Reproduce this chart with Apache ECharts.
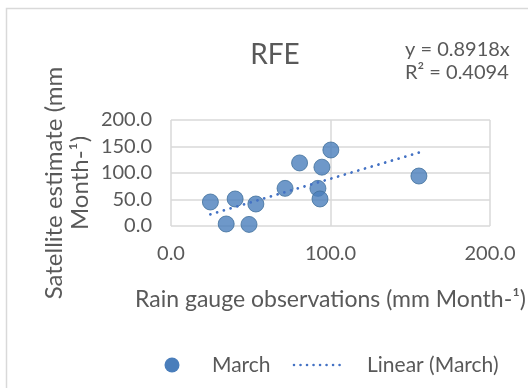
<!DOCTYPE html>
<html>
<head>
<meta charset="utf-8">
<script src="https://cdn.jsdelivr.net/npm/echarts@6/dist/echarts.min.js"></script>
<style>
  html, body { margin: 0; padding: 0; background: #fff; }
  #chart { width: 528px; height: 388px; }
</style>
</head>
<body>
<div id="chart"></div>
<script>
// Rain gauge (x) vs satellite RFE estimate (y), mm per month, March
const gaugeMarch = [24.7, 34.6, 40.2, 48.9, 53.2, 71.5, 80.6, 92.1, 93.4, 94.6, 100.2, 155.4];
const satMarch   = [45.3, 3.8, 51.0, 3.0, 41.5, 71.0, 119.0, 71.0, 51.0, 111.0, 143.4, 94.3];

// Linear trend through the origin, as reported on the chart
const trendSlope = 0.8918;
const trendR2 = 0.4094;

const xTicks = [0, 100, 200];
const yTicks = [0, 50, 100, 150, 200];

const FONT = 'Lato';
const TEXT = '#595959';
const BLUE = '#4A7EBB';
const TREND = '#4472C4';

const points = gaugeMarch.map((x, i) => [x, satMarch[i]]);
const xMin = Math.min(...gaugeMarch);
const xMax = Math.max(...gaugeMarch);
const trend = [[xMin, trendSlope * xMin], [xMax, trendSlope * xMax]];

const chart = echarts.init(document.getElementById('chart'), null, { renderer: 'canvas' });

// legend row drawn as graphics: marker, label, dotted line, label
const legendY = 365;
const legendGraphics = [
  { type: 'circle', shape: { cx: 172, cy: legendY, r: 7.5 },
    style: { fill: BLUE }, silent: true },
  { type: 'text', x: 212, y: legendY,
    style: { text: 'March', fontFamily: FONT, fontSize: 21, fill: TEXT, verticalAlign: 'middle' } },
  { type: 'line', shape: { x1: 294, y1: legendY, x2: 346, y2: legendY },
    style: { stroke: TREND, lineWidth: 2.6, lineDash: [0.01, 6.5], lineCap: 'round' }, silent: true },
  { type: 'text', x: 367, y: legendY,
    style: { text: 'Linear (March)', fontFamily: FONT, fontSize: 21, fill: TEXT, verticalAlign: 'middle' } }
];

chart.setOption({
  animation: false,
  backgroundColor: '#fff',
  title: {
    text: 'RFE',
    left: 270, top: 36, textAlign: 'center',
    textStyle: { fontFamily: FONT, fontWeight: 'normal', fontSize: 28, color: TEXT }
  },
  grid: { left: 171, right: 33, top: 120, bottom: 162, containLabel: false },
  xAxis: {
    type: 'value', min: xTicks[0], max: xTicks[xTicks.length - 1], interval: 100,
    axisLine: { show: false }, axisTick: { show: false },
    splitLine: { show: true, lineStyle: { color: '#d9d9d9', width: 1.5 } },
    axisLabel: { fontFamily: FONT, fontSize: 20, color: TEXT, margin: 18,
      formatter: v => v.toFixed(1) },
    name: 'Rain gauge observations (mm Month-\u00b9)',
    nameLocation: 'middle', nameGap: 62,
    nameTextStyle: { fontFamily: FONT, fontSize: 23, color: TEXT }
  },
  yAxis: {
    type: 'value', min: yTicks[0], max: yTicks[yTicks.length - 1], interval: 50,
    axisLine: { show: false }, axisTick: { show: false },
    splitLine: { show: true, lineStyle: { color: '#d9d9d9', width: 1.5 } },
    axisLabel: { fontFamily: FONT, fontSize: 20, color: TEXT, margin: 19,
      formatter: v => v.toFixed(1) }
  },
  graphic: [
    { type: 'rect', shape: { x: 6.5, y: 8.5, width: 600, height: 500 },
      style: { fill: null, stroke: '#d9d9d9', lineWidth: 1.5 }, silent: true },
    { type: 'text', x: 54, y: 183, rotation: Math.PI / 2,
      style: { text: 'Satellite estimate (mm', fontFamily: FONT, fontSize: 24, fill: TEXT,
        align: 'center', verticalAlign: 'middle' } },
    { type: 'text', x: 80, y: 183, rotation: Math.PI / 2,
      style: { text: 'Month-\u00b9)', fontFamily: FONT, fontSize: 24, fill: TEXT,
        align: 'center', verticalAlign: 'middle' } },
    { type: 'text', x: 405, y: 38,
      style: { text: 'y = ' + trendSlope + 'x\nR\u00b2 = ' + trendR2, fontFamily: FONT,
        fontSize: 20, lineHeight: 23, fill: TEXT } },
    ...legendGraphics
  ],
  series: [
    {
      name: 'March', type: 'scatter', data: points,
      symbol: 'circle', symbolSize: 16,
      itemStyle: { color: BLUE, borderColor: '#41719C', borderWidth: 1 }
    },
    {
      name: 'Linear (March)', type: 'line', data: trend,
      symbol: 'none',
      lineStyle: { color: TREND, width: 2.8, type: [0.01, 7], cap: 'round' }
    }
  ]
});
</script>
</body>
</html>
